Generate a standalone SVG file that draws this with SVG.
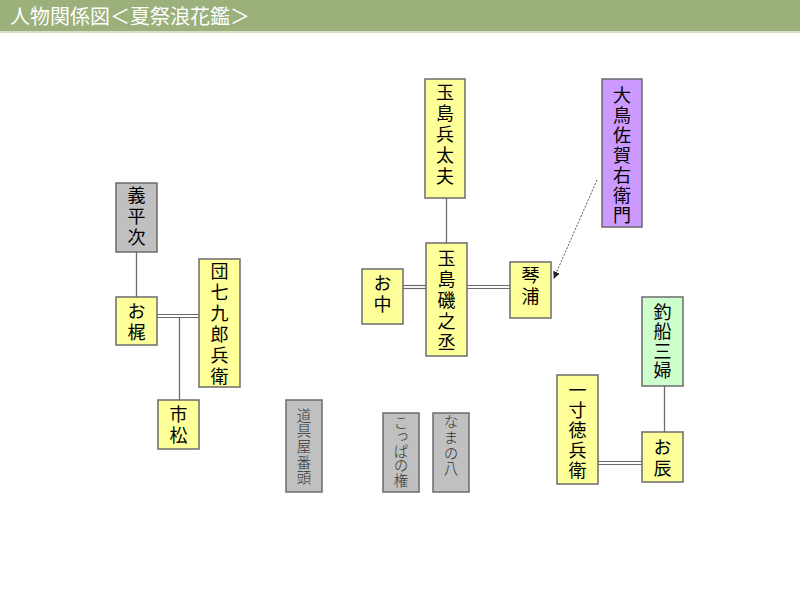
<svg xmlns="http://www.w3.org/2000/svg" width="800" height="600" viewBox="0 0 800 600">
<defs>
<style>
.box{stroke:#6b6b6b;stroke-width:1.5}
.y{fill:#FFFF99}.g{fill:#C0C0C0}.p{fill:#CC99FF}.gr{fill:#CCFFCC}
.t{font-family:"Noto Sans CJK JP","Noto Sans CJK SC",sans-serif;font-size:18px;font-weight:400;fill:#000;text-anchor:middle;writing-mode:vertical-rl;letter-spacing:3px}
.s{font-family:"Noto Sans CJK JP","Noto Sans CJK SC",sans-serif;font-size:14.5px;font-weight:300;fill:#333;text-anchor:middle;writing-mode:vertical-rl;letter-spacing:1.2px}
.ln{stroke:#6b6b6b;stroke-width:1.3;fill:none}
.dl{stroke:#6b6b6b;stroke-width:1.2;fill:none}
.ar{stroke:#555;stroke-width:1;stroke-dasharray:2 1.5;fill:none}
</style>
<marker id="ah" viewBox="0 0 10 10" refX="9" refY="5" markerWidth="7" markerHeight="7" orient="auto" markerUnits="userSpaceOnUse">
<path d="M0,0 L10,5 L0,10 z" fill="#222"/>
</marker>
</defs>
<rect width="800" height="600" fill="#fff"/>
<g id="title">
<rect x="0" y="0" width="800" height="31" fill="#9BB07A"/>
<rect x="0" y="31" width="800" height="2" fill="#D6E0C8"/>
<text x="10" y="24" font-family="Noto Sans CJK JP,sans-serif" font-size="20" fill="#fff">人物関係図＜夏祭浪花鑑＞</text>
</g>
<g id="connectors">
<line class="ln" x1="136.5" y1="252" x2="136.5" y2="297"/>
<line class="dl" x1="157" y1="314.5" x2="199" y2="314.5"/>
<line class="dl" x1="157" y1="317.5" x2="199" y2="317.5"/>
<line class="ln" x1="179.5" y1="317.5" x2="179.5" y2="400"/>
<line class="ln" x1="446.5" y1="198" x2="446.5" y2="243"/>
<line class="dl" x1="403" y1="285.5" x2="426" y2="285.5"/>
<line class="dl" x1="403" y1="288.5" x2="426" y2="288.5"/>
<line class="dl" x1="467" y1="285.5" x2="510" y2="285.5"/>
<line class="dl" x1="467" y1="288.5" x2="510" y2="288.5"/>
<line class="ar" x1="597" y1="180" x2="554" y2="278" marker-end="url(#ah)"/>
<line class="ln" x1="664.5" y1="386" x2="664.5" y2="432"/>
<line class="dl" x1="598" y1="461.5" x2="642" y2="461.5"/>
<line class="dl" x1="598" y1="464.5" x2="642" y2="464.5"/>
</g>
<g id="n-gihei">
<rect class="box g" x="116" y="183" width="41" height="69"/>
<text class="t" x="136.5" y="218">義平次</text>
</g>
<g id="n-okaji">
<rect class="box y" x="116" y="297" width="41" height="48"/>
<text class="t" x="136.5" y="323">お梶</text>
</g>
<g id="n-danshichi">
<rect class="box y" x="199" y="259" width="41" height="128"/>
<text class="t" x="219.5" y="325.5">団七九郎兵衛</text>
</g>
<g id="n-ichimatsu">
<rect class="box y" x="158" y="400" width="41" height="49"/>
<text class="t" x="178.5" y="426.5">市松</text>
</g>
<g id="n-hyodayu">
<rect class="box y" x="425" y="79" width="40" height="119"/>
<text class="t" x="445" y="135.5">玉島兵太夫</text>
</g>
<g id="n-oshima">
<rect class="box p" x="602" y="79" width="40" height="148"/>
<text class="t" x="622" y="156" style="letter-spacing:2px">大鳥佐賀右衛門</text>
</g>
<g id="n-isonojo">
<rect class="box y" x="426" y="243" width="41" height="113"/>
<text class="t" x="446.5" y="302">玉島磯之丞</text>
</g>
<g id="n-onaka">
<rect class="box y" x="362" y="269" width="41" height="55"/>
<text class="t" x="382.5" y="295.5">お中</text>
</g>
<g id="n-kotoura">
<rect class="box y" x="510" y="262" width="41" height="56"/>
<text class="t" x="530.5" y="287.5">琴浦</text>
</g>
<g id="n-tsurifune">
<rect class="box gr" x="642" y="297" width="41" height="89"/>
<text class="t" x="662.5" y="342" style="letter-spacing:1.5px">釣船三婦</text>
</g>
<g id="n-tokubei">
<rect class="box y" x="557" y="375" width="41" height="109"/>
<text class="t" x="577.5" y="431" style="letter-spacing:2px">一寸徳兵衛</text>
</g>
<g id="n-otatsu">
<rect class="box y" x="642" y="432" width="41" height="50"/>
<text class="t" x="662.5" y="459">お辰</text>
</g>
<g id="n-dougu">
<rect class="box g" x="286" y="400" width="36" height="92"/>
<text class="s" x="304" y="447">道具屋番頭</text>
</g>
<g id="n-koppa">
<rect class="box g" x="383" y="413" width="36" height="79"/>
<text class="s" x="401" y="451" style="letter-spacing:0px">こっぱの権</text>
</g>
<g id="n-namano">
<rect class="box g" x="433" y="413" width="36" height="79"/>
<text class="s" x="451" y="446">なまの八</text>
</g>
</svg>
